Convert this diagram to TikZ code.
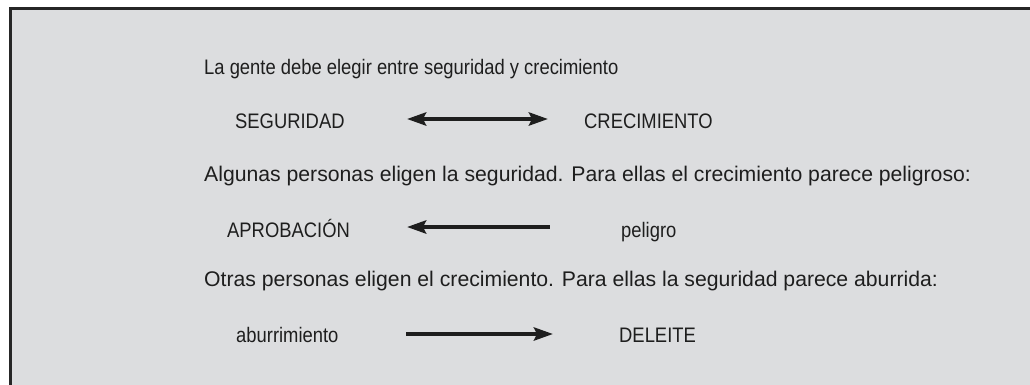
\documentclass[tikz,border=0pt]{standalone}
\usepackage{graphicx}
\usepackage{fontspec}
\setmainfont{Liberation Sans}
\usetikzlibrary{arrows.meta}
\definecolor{panelgray}{RGB}{220,221,223}
\definecolor{framegray}{RGB}{38,38,38}
\definecolor{inkgray}{RGB}{30,30,30}
\newcommand{\nw}[1]{\scalebox{0.876}[1]{#1}}

\begin{document}
\begin{tikzpicture}[
    x=1pt, y=-1pt,
    txt/.style={anchor=base west, inner sep=0pt, text=inkgray,
                font=\fontsize{21.2}{25}\selectfont},
    ntxt/.style={txt, font=\fontsize{21}{25}\selectfont},
    arr/.style={line width=4.5pt, draw=inkgray,
                {Stealth[length=19pt, width=13pt, inset=3pt]}-{Stealth[length=19pt, width=13pt, inset=3pt]}},
    arrl/.style={arr, -{Stealth[length=19pt, width=13pt, inset=3pt]}},
    arrr/.style={arr, {Stealth[length=19pt, width=13pt, inset=3pt]}-}
  ]

  % ================= page and panel =================
  \useasboundingbox (0,0) rectangle (1030,384);
  \clip (0,0) rectangle (1030,384);
  \fill[white] (0,0) rectangle (1030,384);
  \filldraw[fill=panelgray, draw=framegray, line width=3pt] (10.5,8.8) rectangle (1045,400);

  % ================= choice =================
  \node[ntxt] (intro) at (204,74) {\nw{La gente debe elegir entre seguridad y crecimiento}};
  \node[ntxt] (seg)   at (235,128) {\nw{SEGURIDAD}};
  \node[ntxt] (crec)  at (584,128) {\nw{CRECIMIENTO}};
  \coordinate (c1a) at (407,119);
  \coordinate (c1b) at (548,119);
  \draw[arr] (c1a) -- (c1b);

  % ================= safety =================
  \node[txt] (safe)  at (204,181) {Algunas personas eligen la seguridad. Para ellas el crecimiento parece peligroso:};
  \node[ntxt] (apro)  at (227,237) {\nw{APROBACIÓN}};
  \node[ntxt] (peli)  at (621,237) {\nw{peligro}};
  \coordinate (c2a) at (407,227);
  \coordinate (c2b) at (550,227);
  \draw[arrr] (c2a) -- (c2b);

  % ================= growth =================
  \node[txt] (grow)  at (204,286) {Otras personas eligen el crecimiento. Para ellas la seguridad parece aburrida:};
  \node[ntxt] (abur)  at (236,342) {\nw{aburrimiento}};
  \node[ntxt] (del)   at (619,342) {\nw{DELEITE}};
  \coordinate (c3a) at (406,334);
  \coordinate (c3b) at (553,334);
  \draw[arrl] (c3a) -- (c3b);

\end{tikzpicture}
\end{document}
